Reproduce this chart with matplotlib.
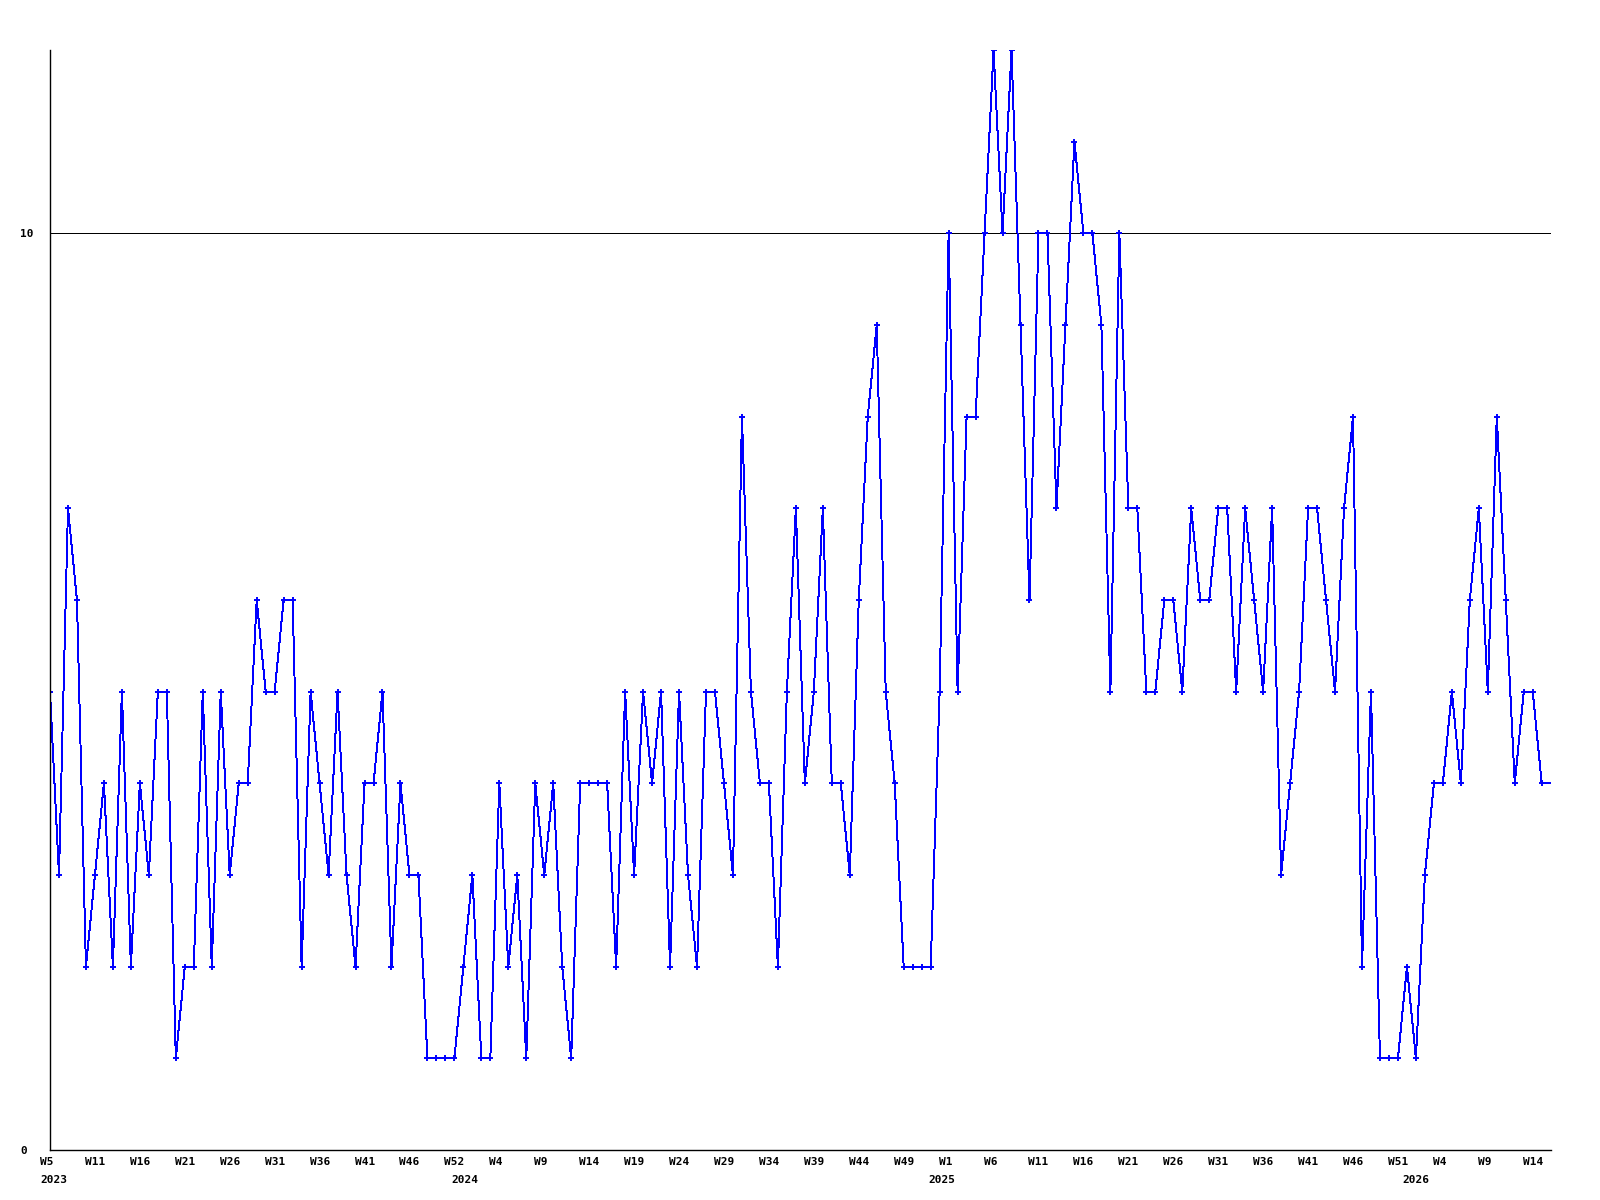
import numpy as np
import matplotlib
matplotlib.use('Agg')
import matplotlib.pyplot as plt
import matplotlib.transforms as mtransforms

# weekly values, 2023 W5 onwards (one value per week)
values = [5, 3, 7, 6, 2, 3, 4, 2, 5, 2, 4, 3, 5, 5, 1, 2, 2, 5, 2, 5,
          3, 4, 4, 6, 5, 5, 6, 6, 2, 5, 4, 3, 5, 3, 2, 4, 4, 5, 2, 4,
          3, 3, 1, 1, 1, 1, 2, 3, 1, 1, 4, 2, 3, 1, 4, 3, 4, 2, 1, 4,
          4, 4, 4, 2, 5, 3, 5, 4, 5, 2, 5, 3, 2, 5, 5, 4, 3, 8, 5, 4,
          4, 2, 5, 7, 4, 5, 7, 4, 4, 3, 6, 8, 9, 5, 4, 2, 2, 2, 2, 5,
          10, 5, 8, 8, 10, 12, 10, 12, 9, 6, 10, 10, 7, 9, 11, 10, 10, 9, 5, 10,
          7, 7, 5, 5, 6, 6, 5, 7, 6, 6, 7, 7, 5, 7, 6, 5, 7, 3, 4, 5,
          7, 7, 6, 5, 7, 8, 2, 5, 1, 1, 1, 2, 1, 3, 4, 4, 5, 4, 6, 7,
          5, 8, 6, 4, 5, 5, 4, 4]

week_labels = ['W5', 'W11', 'W16', 'W21', 'W26', 'W31', 'W36', 'W41', 'W46', 'W52',
               'W4', 'W9', 'W14', 'W19', 'W24', 'W29', 'W34', 'W39', 'W44', 'W49',
               'W1', 'W6', 'W11', 'W16', 'W21', 'W26', 'W31', 'W36', 'W41', 'W46', 'W51',
               'W4', 'W9', 'W14']
label_every = 5

years = ['2023', '2024', '2025', '2026']
year_pos = [0.4, 46.2, 99.2, 152.0]

x = np.arange(len(values))

fig = plt.figure(figsize=(16, 12), dpi=100)
ax = fig.add_axes([50 / 1600, 50 / 1200, 1500.7 / 1600, 1100 / 1200])

ax.axhline(10, color='black', linewidth=0.7, antialiased=False)
ax.plot(x, values, color='#0000ff', linewidth=0.7, antialiased=False,
        marker='+', markersize=4, markeredgewidth=1.4,
        markevery=list(range(len(values) - 1)))

ax.set_xlim(0, len(values) - 1)
ax.set_ylim(0, 12)

for side in ['top', 'right']:
    ax.spines[side].set_visible(False)
for side in ['left', 'bottom']:
    ax.spines[side].set_linewidth(1.0)
    ax.spines[side].set_color('black')

font = dict(family='DejaVu Sans Mono', weight='bold', size=8)

ax.set_yticks([0, 10])
ax.set_yticklabels(['0', '10'], **font)
ax.tick_params(axis='y', length=0, pad=21.6)
for lab in ax.get_yticklabels():
    lab.set_horizontalalignment('left')

ticks = [i * label_every for i in range(len(week_labels))]
ax.set_xticks(ticks)
ax.set_xticklabels(week_labels, **font)
ax.tick_params(axis='x', length=0, pad=5)
shift = mtransforms.ScaledTranslation(-10 / 100, 0, fig.dpi_scale_trans)
for lab in ax.get_xticklabels():
    lab.set_horizontalalignment('left')
    lab.set_transform(lab.get_transform() + shift)

trans = mtransforms.blended_transform_factory(ax.transData, fig.transFigure)
for yr, pos in zip(years, year_pos):
    ax.text(pos, 1 - 1180 / 1200, yr, transform=trans, ha='center', va='center', **font)

fig.savefig('out.png', dpi=100)
